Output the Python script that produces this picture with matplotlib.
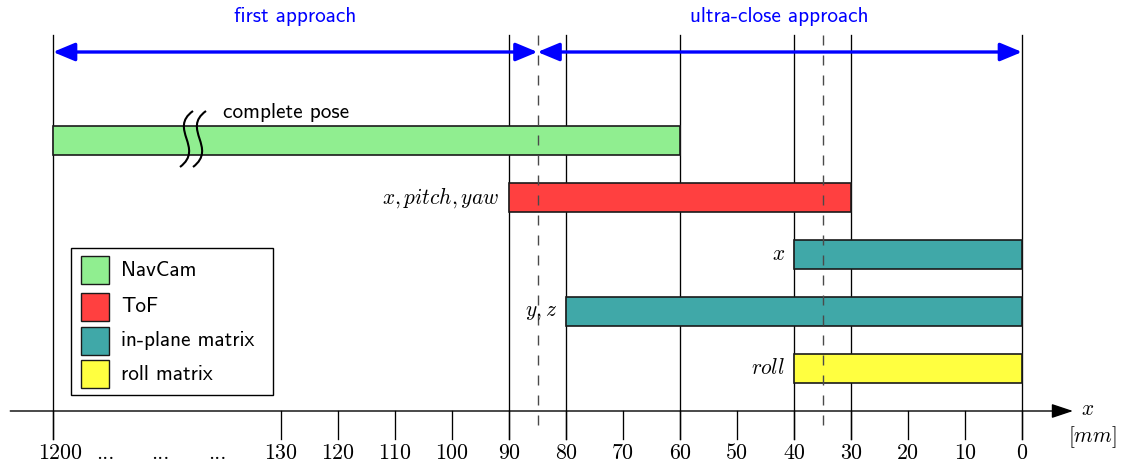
import matplotlib
matplotlib.use("Agg")
import matplotlib.pyplot as plt
from matplotlib.patches import Rectangle, PathPatch
from matplotlib.path import Path

plt.rcParams['mathtext.fontset'] = 'cm'

# ---------------- data ----------------
bar_labels = [r'', r'$x, pitch, yaw$', r'$x$', r'$y, z$', r'$roll$']
bar_start = [1200, 90, 40, 80, 40]     # mm (far end)
bar_end = [60, 30, 0, 0, 0]            # mm (near end)
bar_colors = ['#90EE90', '#FF4040', '#40A8A8', '#40A8A8', '#FFFF40']

legend_names = ['NavCam', 'ToF', 'in-plane matrix', 'roll matrix']
legend_colors = ['#90EE90', '#FF4040', '#40A8A8', '#FFFF40']

tick_values = [1200, 130, 120, 110, 100, 90, 80, 70, 60, 50, 40, 30, 20, 10, 0]
tick_labels = ['1200', '130', '120', '110', '100', '90', '80', '70', '60', '50',
               '40', '30', '20', '10', '0']
gap_labels_pos = [160.9, 151.2, 141.2]   # positions of "..." placeholders
solid_lines = [1200, 90, 80, 60, 40, 30, 0]
dashed_lines = [85, 35]
phases = ['first approach', 'ultra-close approach']
phase_bounds = [(1200, 85), (85, 0)]

# ---------------- helpers ----------------
def pos(v):
    """map mm value to linear drawing position (axis broken above 130)"""
    return 170 if v > 130 else v

W, H = 1126, 468
fig = plt.figure(figsize=(W / 100, H / 100), dpi=100)
ax = fig.add_axes([0, 0, 1, 1])
ax.set_xlim((1022 - 0) / 5.7, (1022 - W) / 5.7)
ax.set_ylim(H, 0)
ax.axis('off')

ov = fig.add_axes([0, 0, 1, 1])
ov.set_xlim(0, W)
ov.set_ylim(H, 0)
ov.axis('off')

sans = 'cmss10'
serif = 'cmr10'
fs_sans = 15.3
fs_serif = 15.8
fs_math = 15.4

y_axis = 411
y_top = 35
y_tick_end = 439
row0, row_step, bar_h = 140.5, 57, 28.5

# vertical lines
for v in solid_lines:
    ax.plot([pos(v), pos(v)], [y_top, y_tick_end], color='black', lw=0.95, zorder=1)
for v in dashed_lines:
    ax.plot([pos(v), pos(v)], [y_top, 431], color='#4a4a4a', lw=1.0,
            dashes=(7.2, 7.2), zorder=4)

# bars
for i, (s, e, c, lab) in enumerate(zip(bar_start, bar_end, bar_colors, bar_labels)):
    yc = row0 + i * row_step
    ax.barh(yc, pos(s) - pos(e), left=pos(e), height=bar_h, color=c,
            edgecolor='#1a1a1a', linewidth=1.2, zorder=2)
    if lab:
        ax.text(pos(s) + 1.6, yc, lab, ha='right', va='center',
                fontsize=fs_math, zorder=5)

# complete pose label
ax.text(pos(1200) - 29.9, 112, 'complete pose', family=sans, fontsize=fs_sans,
        ha='left', va='center')

# break mark on the NavCam bar (S-shaped strokes)
for dx in (0, 13):
    verts = [(193 + dx, 111), (168 + dx, 129), (205 + dx, 148), (180 + dx, 167)]
    path = Path(verts, [Path.MOVETO, Path.CURVE4, Path.CURVE4, Path.CURVE4])
    ov.add_patch(PathPatch(path, facecolor='none', edgecolor='black', lw=1.5,
                           zorder=6))

# x axis
ax.annotate('', xy=(pos(0) - 8.95, y_axis), xytext=(pos(0) + 177.5, y_axis),
            arrowprops=dict(arrowstyle='-|>,head_length=0.6,head_width=0.2',
                            color='black', lw=1.0, mutation_scale=22,
                            shrinkA=0, shrinkB=0), zorder=3)
for v, lab in zip(tick_values, tick_labels):
    ax.plot([pos(v), pos(v)], [y_axis, y_tick_end], color='black', lw=0.95, zorder=1)
    xoff = -1.2 if v > 130 else 0
    ax.text(pos(v) + xoff, 453, lab, family=serif, fontsize=fs_serif, ha='center',
            va='center')
for p in gap_labels_pos:
    ax.text(p, 453, '...', family=serif, fontsize=fs_serif, ha='center',
            va='center')
ax.text(pos(0) - 11.5, 409, r'$x$', fontsize=fs_math, ha='center', va='center')
ax.text(pos(0) - 12.3, 437, r'$[mm]$', fontsize=fs_math, ha='center', va='center')

# phase arrows
for (a, b), name in zip(phase_bounds, phases):
    ax.annotate('', xy=(pos(b), 52), xytext=(pos(a), 52),
                arrowprops=dict(arrowstyle='<|-|>,head_length=0.6,head_width=0.25',
                                color='blue', lw=2.4, mutation_scale=22,
                                shrinkA=0, shrinkB=0), zorder=5)
    ax.text((pos(a) + pos(b)) / 2, 16, name, family=sans, fontsize=fs_sans,
            color='blue', ha='center', va='center')

# legend (manual)
ov.add_patch(Rectangle((71, 248), 202, 147, facecolor='white', edgecolor='black',
                       lw=1.0, zorder=7))
legend_y = [270, 307, 340.5, 374]
for yc, name, c in zip(legend_y, legend_names, legend_colors):
    ov.add_patch(Rectangle((81, yc - 14), 28, 28, facecolor=c, edgecolor='#1a1a1a',
                           lw=1.0, zorder=8))
    ov.text(121, yc, name, family=sans, fontsize=fs_sans, ha='left', va='center',
            zorder=9)

fig.savefig('out.png', dpi=100)
